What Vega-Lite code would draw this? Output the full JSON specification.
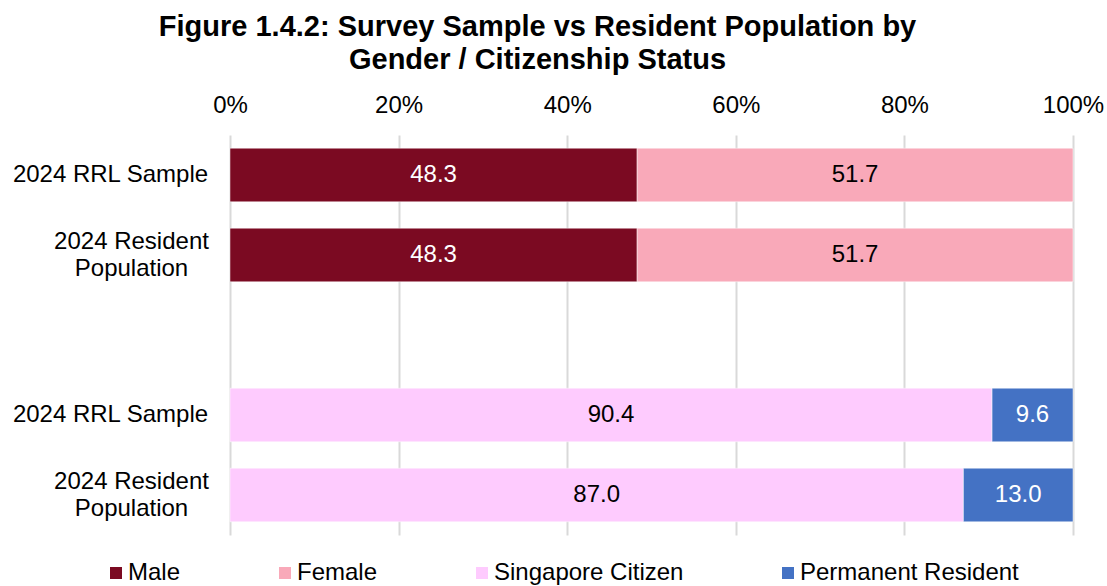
{
  "$schema": "https://vega.github.io/schema/vega-lite/v6.json",
  "width": 843,
  "height": 400,
  "autosize": {"type": "none"},
  "padding": {"left": 230, "top": 135, "right": 34, "bottom": 51},
  "background": "white",
  "config": {
    "font": "Liberation Sans",
    "view": {"stroke": null}
  },
  "title": {
    "text": ["Figure 1.4.2: Survey Sample vs Resident Population by", "Gender / Citizenship Status"],
    "font": "Liberation Sans",
    "fontSize": 29,
    "fontWeight": "bold",
    "color": "black",
    "anchor": "middle",
    "frame": "group",
    "dx": -114,
    "lineHeight": 33,
    "offset": 18
  },
  "data": {
    "values": [
      {"row": "Gender: 2024 RRL Sample", "category": "Male", "order": 1, "value": 48.3},
      {"row": "Gender: 2024 RRL Sample", "category": "Female", "order": 2, "value": 51.7},
      {"row": "Gender: 2024 Resident Population", "category": "Male", "order": 1, "value": 48.3},
      {"row": "Gender: 2024 Resident Population", "category": "Female", "order": 2, "value": 51.7},
      {"row": "Citizenship: 2024 RRL Sample", "category": "Singapore Citizen", "order": 3, "value": 90.4},
      {"row": "Citizenship: 2024 RRL Sample", "category": "Permanent Resident", "order": 4, "value": 9.6},
      {"row": "Citizenship: 2024 Resident Population", "category": "Singapore Citizen", "order": 3, "value": 87.0},
      {"row": "Citizenship: 2024 Resident Population", "category": "Permanent Resident", "order": 4, "value": 13.0}
    ]
  },
  "transform": [
    {"stack": "value", "groupby": ["row"], "sort": [{"field": "order"}], "as": ["x0", "x1"]},
    {"calculate": "(datum.x0 + datum.x1) / 2", "as": "mid"}
  ],
  "encoding": {
    "y": {
      "field": "row",
      "type": "nominal",
      "scale": {
        "domain": ["Gender: 2024 RRL Sample", "Gender: 2024 Resident Population", "gap", "Citizenship: 2024 RRL Sample", "Citizenship: 2024 Resident Population"],
        "paddingInner": 0.33,
        "paddingOuter": 0.165
      },
      "axis": {
        "title": null,
        "domain": false,
        "ticks": false,
        "grid": false,
        "labelFont": "Liberation Sans",
        "labelFontSize": 24,
        "labelColor": "black",
        "labelAlign": "center",
        "labelPadding": {"condition": {"test": "indexof(datum.value, 'Resident Population') >= 0", "value": 99}, "value": 120},
        "labelOffset": {"condition": {"test": "indexof(datum.value, 'Resident Population') >= 0", "value": -13}, "value": 0},
        "labelLineHeight": 27,
        "labelLimit": 300,
        "labelExpr": "datum.value == 'gap' ? '' : (indexof(datum.value, 'Resident Population') >= 0 ? ['2024 Resident', 'Population'] : '2024 RRL Sample')"
      }
    }
  },
  "layer": [
    {
      "mark": {"type": "bar", "stroke": "white", "strokeWidth": 0.8, "strokeOpacity": 0.6},
      "encoding": {
        "x": {
          "field": "x0",
          "type": "quantitative",
          "scale": {"domain": [0, 100], "nice": false},
          "axis": {
            "orient": "top",
            "title": null,
            "values": [0, 20, 40, 60, 80, 100],
            "labelExpr": "datum.value + '%'",
            "domain": false,
            "ticks": false,
            "grid": true,
            "gridColor": "#d9d9d9",
            "gridWidth": 2,
            "labelFont": "Liberation Sans",
            "labelFontSize": 24,
            "labelColor": "black",
            "labelPadding": 18,
            "labelFlush": false
          }
        },
        "x2": {"field": "x1"},
        "color": {
          "field": "category",
          "type": "nominal",
          "scale": {
            "domain": ["Male", "Female", "Singapore Citizen", "Permanent Resident"],
            "range": ["#7b0a22", "#f9a9b9", "#fecbfe", "#4472c4"]
          },
          "legend": {
            "title": null,
            "orient": "none",
            "direction": "horizontal",
            "legendX": -126,
            "legendY": 426,
            "symbolType": "square",
            "symbolSize": 144,
            "symbolStrokeWidth": 0,
            "labelFont": "Liberation Sans",
            "labelFontSize": 24,
            "labelColor": "black",
            "labelOffset": 0,
            "columnPadding": 92,
            "labelLimit": 400
          }
        }
      }
    },
    {
      "mark": {"type": "text", "font": "Liberation Sans", "fontSize": 24, "baseline": "middle", "align": "center"},
      "encoding": {
        "x": {"field": "mid", "type": "quantitative"},
        "text": {"field": "value", "type": "quantitative", "format": ".1f"},
        "color": {
          "condition": {"test": "datum.category == 'Male' || datum.category == 'Permanent Resident'", "value": "white"},
          "value": "black"
        }
      }
    }
  ]
}
